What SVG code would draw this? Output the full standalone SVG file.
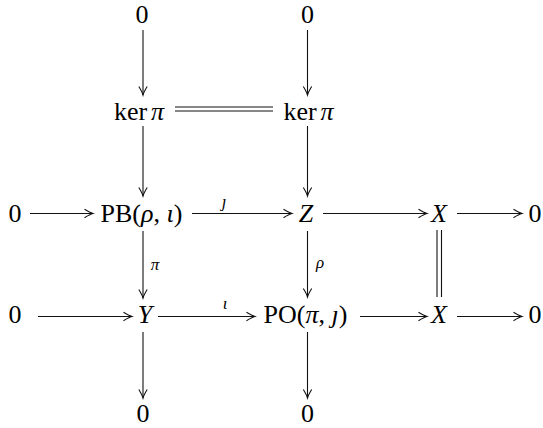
<svg xmlns="http://www.w3.org/2000/svg" width="543" height="428" viewBox="0 0 543 428">
<style>
text{font-family:"Liberation Serif","Times New Roman",serif;font-size:26px;fill:#000;text-anchor:middle}
.i{font-style:italic}
.lab{font-size:17px;font-style:italic}
.ar{stroke:#111;stroke-width:1.1;fill:none;marker-end:url(#ah)}
.ln{stroke:#111;stroke-width:1.1;fill:none}
</style>
<defs>
<marker id="ah" markerWidth="12" markerHeight="12" viewBox="-10 -6 12 12" refX="0" refY="0" orient="auto" markerUnits="userSpaceOnUse">
<path d="M-8.5,-4.2 Q-3,-0.8 0,0 Q-3,0.8 -8.5,4.2" stroke="#111" stroke-width="1.1" fill="none"/>
</marker>
</defs>
<g id="n-0-top-left"><text x="142" y="23">0</text></g>
<g id="n-0-top-right"><text x="307.5" y="23">0</text></g>
<g id="n-ker-left"><text x="139" y="120">ker<tspan class="i" dx="4">π</tspan></text></g>
<g id="n-ker-right"><text x="308.5" y="120">ker<tspan class="i" dx="4">π</tspan></text></g>
<g id="n-0-r2"><text x="15" y="222">0</text></g>
<g id="n-PB"><text x="141.5" y="222">PB(<tspan class="i">ρ</tspan>, <tspan class="i">ι</tspan>)</text></g>
<g id="n-Z"><text class="i" x="306" y="222">Z</text></g>
<g id="n-X-r2"><text class="i" x="439" y="222">X</text></g>
<g id="n-0-r2-right"><text x="535" y="222">0</text></g>
<g id="n-0-r3"><text x="15" y="323">0</text></g>
<g id="n-Y"><text class="i" x="145" y="323">Y</text></g>
<g id="n-PO"><text x="305.5" y="323">PO(<tspan class="i">π</tspan>, <tspan class="i">ȷ</tspan>)</text></g>
<g id="n-X-r3"><text class="i" x="439" y="323">X</text></g>
<g id="n-0-r3-right"><text x="535" y="323">0</text></g>
<g id="n-0-bot-left"><text x="143" y="422">0</text></g>
<g id="n-0-bot-right"><text x="307.5" y="422">0</text></g>
<g id="connectors">
<line class="ar" x1="143" y1="30" x2="143" y2="95"/>
<line class="ar" x1="307.5" y1="30" x2="307.5" y2="95"/>
<line class="ln" x1="175" y1="107" x2="273" y2="107"/>
<line class="ln" x1="175" y1="111" x2="273" y2="111"/>
<line class="ar" x1="143" y1="126" x2="143" y2="196"/>
<line class="ar" x1="307.5" y1="126" x2="307.5" y2="196"/>
<line class="ar" x1="30" y1="213.5" x2="93" y2="213.5"/>
<line class="ar" x1="192" y1="213.5" x2="292" y2="213.5"/>
<text class="lab" x="224" y="207">ȷ</text>
<line class="ar" x1="323" y1="213.5" x2="427" y2="213.5"/>
<line class="ar" x1="457" y1="213.5" x2="522" y2="213.5"/>
<line class="ar" x1="143" y1="231" x2="143" y2="298"/>
<text class="lab" x="155" y="270">π</text>
<line class="ar" x1="307.5" y1="231" x2="307.5" y2="297"/>
<text class="lab" x="320" y="268">ρ</text>
<line class="ln" x1="437" y1="230" x2="437" y2="297"/>
<line class="ln" x1="441.5" y1="230" x2="441.5" y2="297"/>
<line class="ar" x1="38" y1="316.5" x2="132" y2="316.5"/>
<line class="ar" x1="158" y1="316.5" x2="255" y2="316.5"/>
<text class="lab" x="225" y="309">ι</text>
<line class="ar" x1="360" y1="316.5" x2="427" y2="316.5"/>
<line class="ar" x1="457" y1="316.5" x2="522" y2="316.5"/>
<line class="ar" x1="143" y1="332" x2="143" y2="398"/>
<line class="ar" x1="307.5" y1="332" x2="307.5" y2="398"/>
</g>
</svg>
